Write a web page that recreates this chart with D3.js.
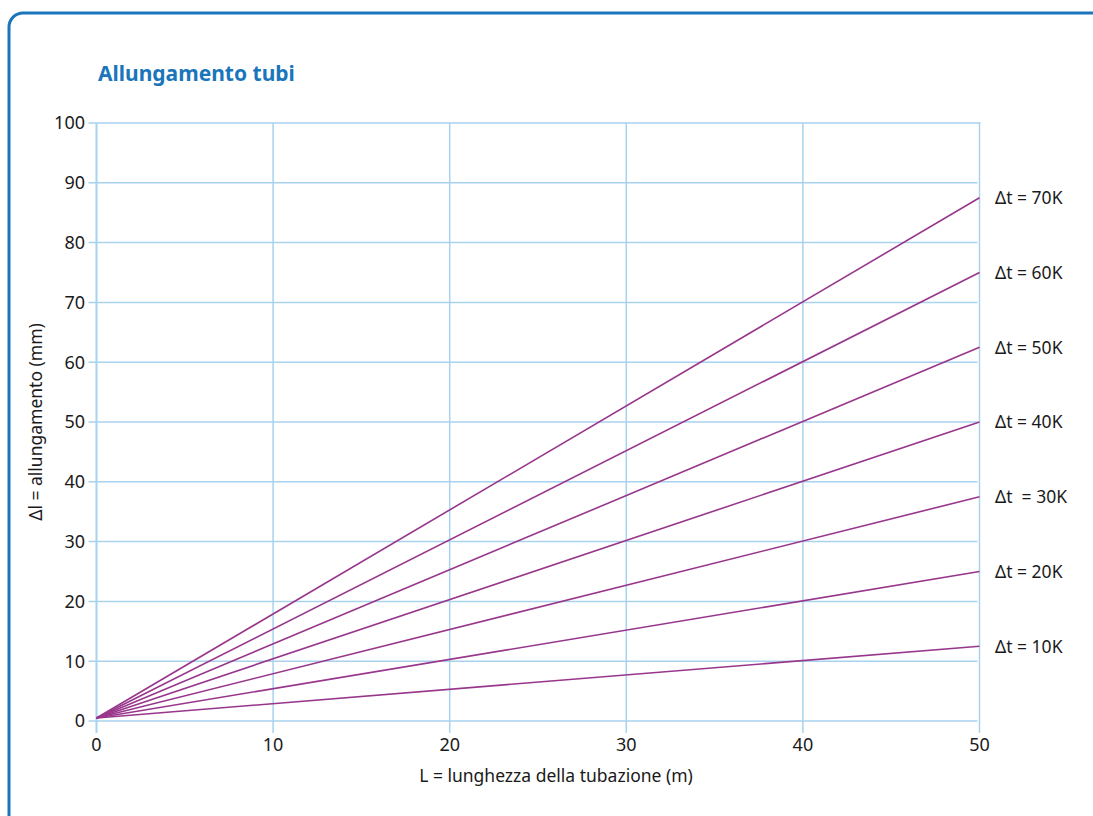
<!DOCTYPE html>
<html>
<head>
<meta charset="utf-8">
<script src="https://cdn.jsdelivr.net/npm/d3@7"></script>
<style>
  body { margin: 0; background: #fff; }
  text { font-family: "Noto Sans", "Open Sans", sans-serif; }
</style>
</head>
<body>
<div id="chart"></div>
<script>
// values
var deltaT = [10, 20, 30, 40, 50, 60, 70];
var startValues = [0.5, 0.5, 0.5, 0.5, 0.5, 0.5, 0.5];
var endValues = [12.5, 25, 37.5, 50, 62.5, 75, 87.5];
var seriesLabels = ["Δt = 10K", "Δt = 20K", "Δt  = 30K", "Δt = 40K", "Δt = 50K", "Δt = 60K", "Δt = 70K"];
var xTicks = [0, 10, 20, 30, 40, 50];
var yTicks = [0, 10, 20, 30, 40, 50, 60, 70, 80, 90, 100];

var width = 1093,
  height = 816;

var svg = d3.select("#chart")
  .append("svg")
  .attr("width", width)
  .attr("height", height);

// frame (runs off the right and bottom edges)
svg.append("rect")
  .attr("x", 9)
  .attr("y", 13)
  .attr("width", 1110)
  .attr("height", 840)
  .attr("rx", 14)
  .attr("fill", "none")
  .attr("stroke", "#1a75bb")
  .attr("stroke-width", 3);

svg.append("text")
  .attr("x", 98)
  .attr("y", 81)
  .attr("fill", "#1a75bb")
  .attr("font-size", 21)
  .attr("font-weight", "bold")
  .text("Allungamento tubi");

var x = d3.scaleLinear().domain([0, 50]).range([96.5, 979.5]);
var y = d3.scaleLinear().domain([0, 100]).range([721, 123]);

var gridColor = "#a8d2ee";

// horizontal grid
svg.selectAll(".hgrid")
  .data(yTicks)
  .enter()
  .append("line")
  .attr("x1", x(0) - 8)
  .attr("x2", function (d) { return d === 100 ? x(50) + 1 : x(50) - 2 })
  .attr("y1", function (d) { return y(d) })
  .attr("y2", function (d) { return y(d) })
  .attr("stroke", gridColor)
  .attr("stroke-width", 1.5);

// vertical grid
svg.selectAll(".vgrid")
  .data(xTicks)
  .enter()
  .append("line")
  .attr("x1", function (d) { return x(d) })
  .attr("x2", function (d) { return x(d) })
  .attr("y1", y(100))
  .attr("y2", y(0) + 12)
  .attr("stroke", gridColor)
  .attr("stroke-width", function (d) { return d === 0 ? 2 : 1.5 });

// tick labels
svg.selectAll(".ylab")
  .data(yTicks)
  .enter()
  .append("text")
  .attr("x", 85)
  .attr("y", function (d) { return y(d) })
  .attr("dy", "0.36em")
  .attr("text-anchor", "end")
  .attr("font-size", 18)
  .attr("fill", "#1a1a1a")
  .text(function (d) { return d });

svg.selectAll(".xlab")
  .data(xTicks)
  .enter()
  .append("text")
  .attr("x", function (d) { return x(d) })
  .attr("y", 751)
  .attr("text-anchor", "middle")
  .attr("font-size", 18)
  .attr("fill", "#1a1a1a")
  .text(function (d) { return d });

// series lines
var lines = deltaT.map(function (t, i) {
  return { label: seriesLabels[i], pts: [[0, startValues[i]], [50, endValues[i]]] };
});

var lineGen = d3.line()
  .x(function (d) { return x(d[0]) })
  .y(function (d) { return y(d[1]) });

svg.selectAll(".series")
  .data(lines)
  .enter()
  .append("path")
  .attr("d", function (d) { return lineGen(d.pts) })
  .attr("fill", "none")
  .attr("stroke", "#98368c")
  .attr("stroke-width", 1.6);

svg.selectAll(".slab")
  .data(lines)
  .enter()
  .append("text")
  .attr("x", 995)
  .attr("y", function (d) { return y(d.pts[1][1]) })
  .attr("dy", "0.36em")
  .attr("font-size", 17.5)
  .attr("fill", "#1a1a1a")
  .style("white-space", "pre")
  .text(function (d) { return d.label });

// axis titles
svg.append("text")
  .attr("x", 556)
  .attr("y", 782)
  .attr("text-anchor", "middle")
  .attr("font-size", 17.5)
  .attr("fill", "#1a1a1a")
  .text("L = lunghezza della tubazione (m)");

svg.append("text")
  .attr("transform", "translate(42," + y(50) + ") rotate(-90)")
  .attr("text-anchor", "middle")
  .attr("font-size", 17.5)
  .attr("fill", "#1a1a1a")
  .text("Δl = allungamento (mm)");
</script>
</body>
</html>
